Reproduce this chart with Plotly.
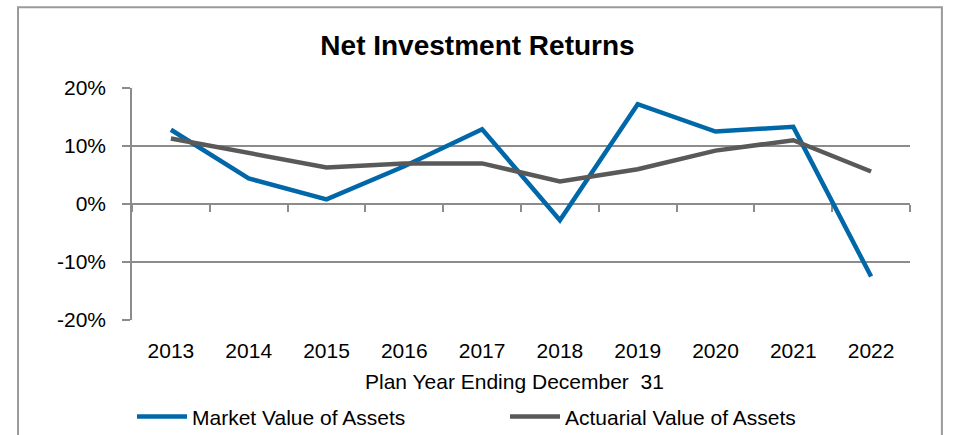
import plotly.graph_objects as go

years = [2013, 2014, 2015, 2016, 2017, 2018, 2019, 2020, 2021, 2022]
market_value = [12.8, 4.4, 0.8, 6.5, 12.9, -2.8, 17.2, 12.5, 13.3, -12.5]
actuarial_value = [11.3, 8.8, 6.3, 7.0, 7.0, 3.9, 6.0, 9.2, 11.0, 5.6]
y_ticks = [-20, -10, 0, 10, 20]

BLUE = "#0068A8"
GRAY = "#595959"
GRID = "#8C8C8C"
FONT = "Liberation Sans, Arial, sans-serif"

# category boundaries for the tick marks on the 0% line
bounds = [y - 0.5 for y in years] + [years[-1] + 0.5]
x_range = [years[0] - 0.5, years[-1] + 0.5]

fig = go.Figure()
fig.add_trace(go.Scatter(
    x=years, y=market_value, name="Market Value of Assets",
    mode="lines", line=dict(color=BLUE, width=4.5),
))
fig.add_trace(go.Scatter(
    x=years, y=actuarial_value, name="Actuarial Value of Assets",
    mode="lines", line=dict(color=GRAY, width=4.5),
))
# helper trace so the zero-line axis is drawn
fig.add_trace(go.Scatter(
    x=years, y=market_value, xaxis="x2", mode="none",
    showlegend=False, hoverinfo="skip",
))

fig.update_layout(
    width=955, height=435,
    margin=dict(l=132, r=45, t=88, b=115, autoexpand=False),
    paper_bgcolor="white", plot_bgcolor="white",
    font=dict(family=FONT, size=21, color="black"),
    title=dict(
        text="<b>Net Investment Returns</b>",
        x=0.5, xref="container", xanchor="center",
        y=1 - 45 / 435, yref="container", yanchor="middle",
        font=dict(size=28, color="black"),
    ),
    xaxis=dict(
        range=x_range, tickvals=years, ticktext=[str(y) for y in years],
        showgrid=False, zeroline=False, showline=False, ticks="",
        ticklabelstandoff=16,
    ),
    xaxis2=dict(
        range=x_range, overlaying="x", anchor="free", position=0.5,
        tickvals=bounds, showticklabels=False, ticks="outside",
        ticklen=7, tickwidth=1.5, tickcolor=GRID,
        showline=True, linecolor=GRID, linewidth=1.5,
        showgrid=False, zeroline=False, layer="below traces",
    ),
    yaxis=dict(
        range=[-20, 20], tickvals=y_ticks,
        ticktext=[f"{v}%" for v in y_ticks],
        showgrid=True, gridcolor=GRID, gridwidth=1.5,
        zeroline=False, showline=True, linecolor=GRID, linewidth=1.5,
        ticks="outside", ticklen=8, tickwidth=1.5, tickcolor=GRID,
        ticklabelstandoff=12,
    ),
    legend=dict(
        orientation="h", x=0.0, xanchor="left",
        y=-0.417, yanchor="middle", yref="paper",
        entrywidth=308, entrywidthmode="pixels",
        font=dict(size=21), itemwidth=50,
        bgcolor="rgba(0,0,0,0)",
    ),
    annotations=[dict(
        text="Plan Year Ending December&nbsp; 31",
        xref="paper", yref="paper", x=0.4916, y=-0.267,
        xanchor="center", yanchor="middle", showarrow=False,
        font=dict(size=21),
    )],
    shapes=[dict(
        type="rect", xref="paper", yref="paper",
        x0=-0.1465, x1=1.041, y0=-0.7, y1=1.348,
        line=dict(color="#9A9A9A", width=2), layer="below",
    )],
    hovermode=False,
)

# drop the page's default body margin so the figure sits at the window origin
fig.write_html(
    "out.html",
    config={"displayModeBar": False},
    post_script="document.body.style.margin = '0';",
)
